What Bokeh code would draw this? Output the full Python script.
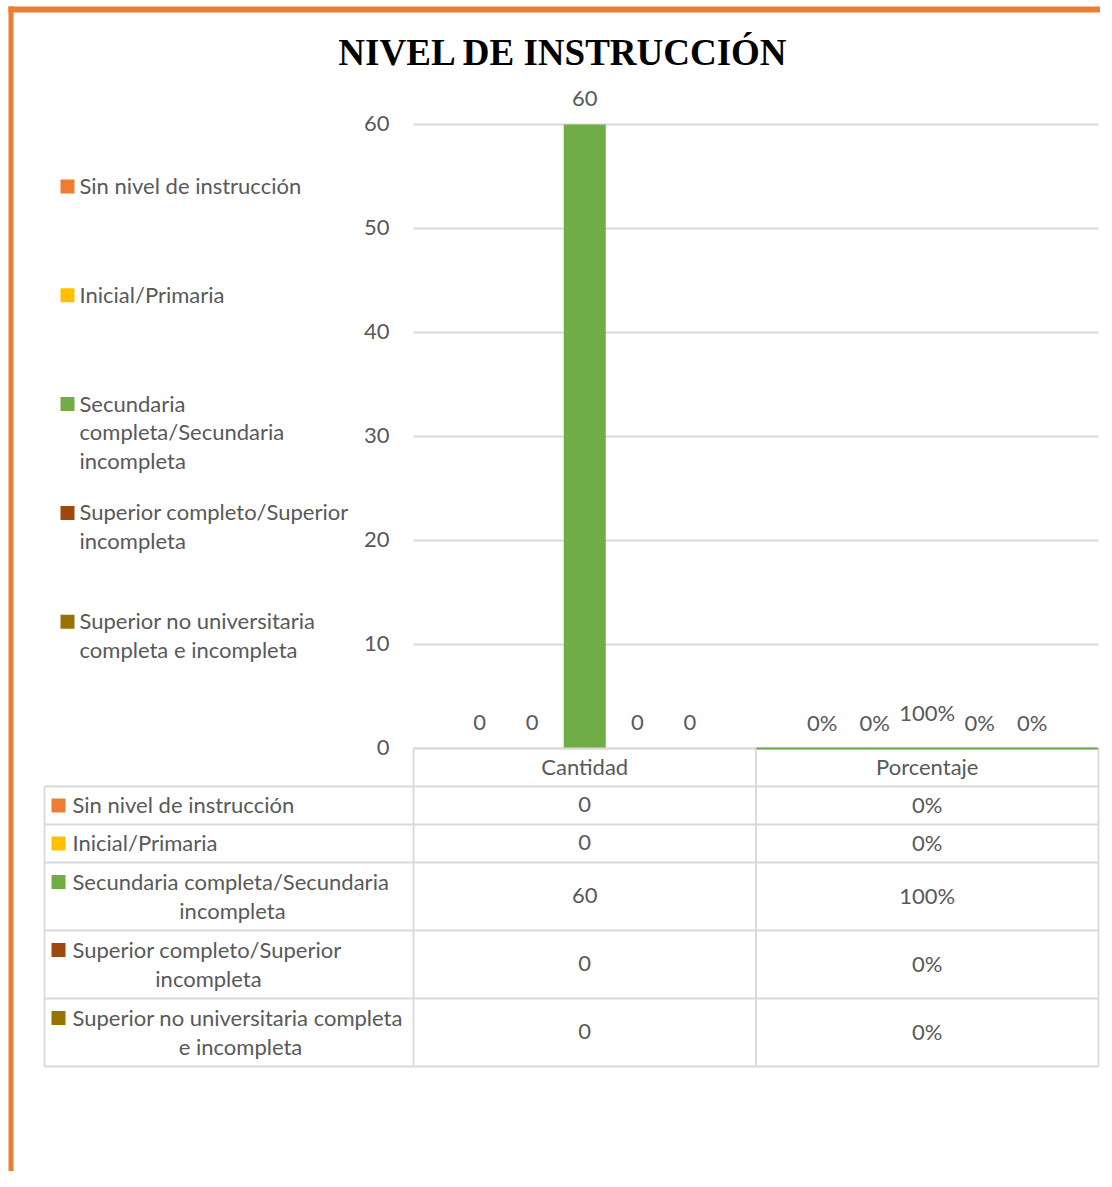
from bokeh.plotting import figure
from bokeh.models import Range1d
from bokeh.embed import file_html
from bokeh.resources import INLINE
from bokeh.core.properties import value

# ---------------- data ----------------
title = "NIVEL DE INSTRUCCIÓN"
categories = ["Cantidad", "Porcentaje"]
series = [
    "Sin nivel de instrucción",
    "Inicial/Primaria",
    "Secundaria completa/Secundaria incompleta",
    "Superior completo/Superior incompleta",
    "Superior no universitaria completa e incompleta",
]
colors = ["#ED7D31", "#FFC000", "#70AD47", "#9E480E", "#997300"]
cantidad = [0, 0, 60, 0, 0]
porcentaje = [0.0, 0.0, 1.0, 0.0, 0.0]
y_ticks = [0, 10, 20, 30, 40, 50, 60]

# wrapped versions of the series names (text layout only)
legend_lines = [
    ["Sin nivel de instrucción"],
    ["Inicial/Primaria"],
    ["Secundaria", "completa/Secundaria", "incompleta"],
    ["Superior completo/Superior", "incompleta"],
    ["Superior no universitaria", "completa e incompleta"],
]
table_lines = [
    ["Sin nivel de instrucción"],
    ["Inicial/Primaria"],
    ["Secundaria completa/Secundaria", "incompleta"],
    ["Superior completo/Superior", "incompleta"],
    ["Superior no universitaria completa", "e incompleta"],
]

# ---------------- layout constants ----------------
W, H = 1100, 1171
OX, OY = 0, 0                 # canvas offset in picture
FONT = value("Lato")
FS = "22px"
GREY = "#595959"
LINE = "#D9D9D9"
X0, CAT_W = 413.0, 342.5      # plot-area left, width of one category (px)
Y0, PX = 748.0, 10.4          # zero line (px), px per value unit
DY = -1                       # small text baseline correction

p = figure(width=W, height=H, x_range=Range1d(OX, OX + W), y_range=Range1d(OY + H, OY),
           output_backend="svg", toolbar_location=None, min_border=0,
           x_axis_location=None, y_axis_location=None)
p.grid.visible = False
p.outline_line_color = None
p.background_fill_color = "white"
p.border_fill_color = "white"

p.extra_x_ranges = {"cat": Range1d((OX - X0) / CAT_W, (OX + W - X0) / CAT_W)}
p.extra_y_ranges = {"val": Range1d((Y0 - (OY + H)) / PX, (Y0 - OY) / PX)}

# orange frame
p.quad(left=8, right=OX + W, top=6, bottom=12, fill_color="#ED7D31", line_color=None)
p.quad(left=8, right=13, top=6, bottom=OY + H, fill_color="#ED7D31", line_color=None)

# title
p.text(x=[563], y=[52], text=[title], text_font=value("Liberation Serif"),
       text_font_style="bold", text_font_size="37px", text_color="black",
       text_align="center", text_baseline="middle")

# gridlines + tick labels
ncat = len(categories)
p.segment(x0=[0] * len(y_ticks), x1=[ncat] * len(y_ticks), y0=y_ticks, y1=y_ticks,
          x_range_name="cat", y_range_name="val", line_color=LINE, line_width=1.8)
p.text(x=[389] * len(y_ticks), y=y_ticks, text=[str(t) for t in y_ticks],
       y_range_name="val", y_offset=DY, text_font=FONT, text_font_size=FS, text_color=GREY,
       text_align="right", text_baseline="middle")

# bars (Cantidad) and data labels
n = len(series)
step = 0.1533
bw = 0.1226
for i in range(n):
    off = (i - (n - 1) / 2) * step
    p.vbar(x=[0.5 + off], top=[cantidad[i]], bottom=0, width=bw,
           x_range_name="cat", y_range_name="val", fill_color=colors[i], line_color=None)
imax = max(range(n), key=lambda k: porcentaje[k])

lab_x, lab_y, lab_t = [], [], []
for i in range(n):
    off = (i - (n - 1) / 2) * step
    lab_x += [0.5 + off, 1.5 + off]
    lab_y += [cantidad[i], porcentaje[i]]
    lab_t += [str(cantidad[i]), f"{porcentaje[i]:.0%}"]
p.text(x=lab_x, y=lab_y, text=lab_t, x_range_name="cat", y_range_name="val",
       y_offset=-26, text_font=FONT, text_font_size=FS, text_color=GREY,
       text_align="center", text_baseline="middle")

# legend (left)
for i, lines in enumerate(legend_lines):
    yc = 186 + 108.8 * i
    p.rect(x=[67], y=[yc], width=14, height=14, fill_color=colors[i], line_color=None)
    p.text(x=[79] * len(lines), y=[yc + 28.5 * k for k in range(len(lines))], text=lines,
           y_offset=DY, text_font=FONT, text_font_size=FS, text_color=GREY,
           text_align="left", text_baseline="middle")

# ---------------- data table ----------------
TL, TR = 44, 1098
row_tops = [786]
for lines in table_lines:
    row_tops.append(row_tops[-1] + (38 if len(lines) == 1 else 68))
bottom = row_tops[-1]
# horizontal lines
p.segment(x0=[X0], x1=[TR], y0=[Y0], y1=[Y0], line_color=LINE, line_width=1.8)
p.segment(x0=[TL] * len(row_tops), x1=[TR] * len(row_tops), y0=row_tops, y1=row_tops,
          line_color=LINE, line_width=1.8)
# Porcentaje series shows as a thin line on the axis in the reference
p.segment(x0=[1], x1=[2], y0=[0], y1=[0], x_range_name="cat", y_range_name="val",
          line_color=colors[imax], line_width=2.2)
# vertical lines
p.segment(x0=[TL], x1=[TL], y0=[786], y1=[bottom], line_color=LINE, line_width=1.8)
vx = list(range(ncat + 1))
p.segment(x0=vx, x1=vx, y0=[Y0] * len(vx), y1=[bottom] * len(vx), x_range_name="cat",
          line_color=LINE, line_width=1.8)
# header
p.text(x=[k + 0.5 for k in range(ncat)], y=[767] * ncat, text=categories, x_range_name="cat",
       y_offset=DY, text_font=FONT, text_font_size=FS, text_color=GREY,
       text_align="center", text_baseline="middle")
line2_x = [None, None, 232, 208, 240]
for i, lines in enumerate(table_lines):
    top, bot = row_tops[i], row_tops[i + 1]
    yc = (top + bot) / 2
    y1 = yc if len(lines) == 1 else yc - 14.5
    p.rect(x=[58], y=[y1], width=14, height=14, fill_color=colors[i], line_color=None)
    p.text(x=[72], y=[y1], text=[lines[0]], y_offset=DY, text_font=FONT, text_font_size=FS,
           text_color=GREY, text_align="left", text_baseline="middle")
    if len(lines) > 1:
        p.text(x=[line2_x[i]], y=[yc + 14.5], text=[lines[1]], y_offset=DY, text_font=FONT,
               text_font_size=FS, text_color=GREY, text_align="center",
               text_baseline="middle")
    p.text(x=[0.5, 1.5], y=[yc, yc], text=[str(cantidad[i]), f"{porcentaje[i]:.0%}"],
           x_range_name="cat", y_offset=DY, text_font=FONT, text_font_size=FS,
           text_color=GREY, text_align="center", text_baseline="middle")

open("out.html", "w").write(file_html(p, INLINE))
